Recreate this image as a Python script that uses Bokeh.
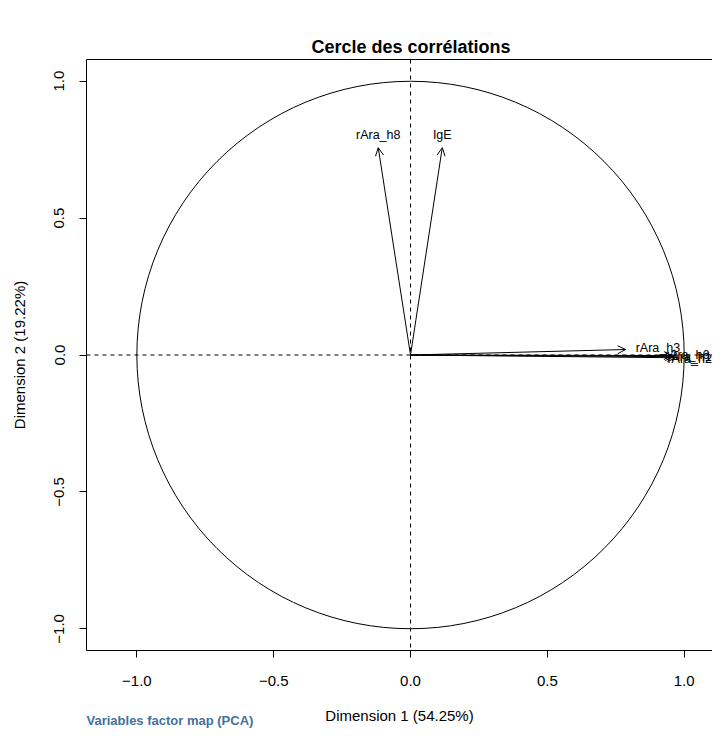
from bokeh.plotting import figure
from bokeh.models import (ColumnDataSource, Arrow, OpenHead, Span, LinearAxis,
                          FixedTicker, Range1d, Title, LabelSet)
from bokeh.embed import file_html
from bokeh.resources import INLINE
from bokeh.core.properties import value

# ---- data ----
variables = ["rAra_h8", "IgE", "rAra_h3", "rAra_h6", "rAra_h1", "rAra_h2"]
dim1 = [-0.118, 0.116, 0.786, 0.955, 0.960, 0.968]
dim2 = [0.757, 0.757, 0.020, -0.002, -0.006, -0.010]
tick_vals = [-1.0, -0.5, 0.0, 0.5, 1.0]
tick_labels = ["\u22121.0", "\u22120.5", "0.0", "0.5", "1.0"]
title_text = "Cercle des corr\u00e9lations"
xlab = "Dimension 1 (54.25%)"
ylab = "Dimension 2 (19.22%)"
subtitle = "Variables factor map (PCA)"

# ---- label placement styling (pixels, positive up) ----
lab_dx = [0, 0, 10, -7, -6, -8]
lab_dy = [6, 6, 2, 1, 0, -1]
lab_align = ["center", "center", "left", "left", "left", "left"]
lab_base = ["bottom", "bottom", "middle", "middle", "middle", "middle"]

FONT = "Liberation Sans"

src = ColumnDataSource(dict(
    x0=[0.0] * len(dim1), y0=[0.0] * len(dim1), dim1=dim1, dim2=dim2,
    name=variables, dx=lab_dx, dy=lab_dy, align=lab_align, base=lab_base))

p = figure(width=712, height=728,
           x_range=Range1d(-1.184, 1.1034), y_range=Range1d(-1.079, 1.079),
           output_backend="svg", toolbar_location=None,
           min_border_left=86, min_border_right=0, min_border_top=59,
           min_border_bottom=78)
p.grid.visible = False
p.outline_line_color = None
p.background_fill_color = "white"
p.border_fill_color = "white"

overrides = {(int(v) if float(v).is_integer() else v): lab
             for v, lab in zip(tick_vals, tick_labels)}

for ax in (p.xaxis[0], p.yaxis[0]):
    ax.ticker = FixedTicker(ticks=tick_vals)
    ax.major_label_overrides = overrides
    ax.major_tick_out = 7
    ax.major_tick_in = 0
    ax.minor_tick_line_color = None
    ax.axis_line_color = "black"
    ax.major_tick_line_color = "black"
    ax.major_label_text_font = FONT
    ax.major_label_text_font_size = "15px"
    ax.major_label_text_color = "black"
    ax.axis_label_text_font = FONT
    ax.axis_label_text_font_size = "15px"
    ax.axis_label_text_font_style = "normal"
    ax.axis_label_text_color = "black"

p.xaxis[0].axis_label = xlab
p.xaxis[0].major_label_standoff = 18
p.xaxis[0].axis_label_standoff = 18
p.yaxis[0].axis_label = ylab
p.yaxis[0].major_label_orientation = "vertical"
p.yaxis[0].major_label_standoff = 15
p.yaxis[0].axis_label_standoff = 24

top_ax = LinearAxis(ticker=FixedTicker(ticks=[]), major_label_text_font_size="0px",
                    major_tick_line_color=None, minor_tick_line_color=None,
                    major_label_standoff=0, axis_line_color="black")
p.add_layout(top_ax, "above")

p.title.text = title_text
p.title.align = "left"
p.title.offset = 225
p.title.text_font = FONT
p.title.text_font_size = "18px"
p.title.text_font_style = "bold"
p.title.text_color = "black"
p.title.standoff = 6

sub = Title(text=subtitle, align="left", vertical_align="top",
            text_font=FONT, text_font_size="13px", text_font_style="bold",
            text_color="#43719e", standoff=-27)
p.add_layout(sub, "below")

# circle
p.ellipse(x=[0], y=[0], width=2, height=2, fill_color=None,
          line_color="black", line_width=1)

p.add_layout(Span(location=0, dimension="width", line_color="black",
                  line_dash="4 4", line_width=1))
p.add_layout(Span(location=0, dimension="height", line_color="black",
                  line_dash="4 4", line_width=1))

p.add_layout(Arrow(end=OpenHead(size=8, line_width=1, line_color="black"),
                   x_start="x0", y_start="y0", x_end="dim1", y_end="dim2",
                   source=src, line_width=1, line_color="black"))

labels = LabelSet(x="dim1", y="dim2", text="name", source=src,
                  x_offset="dx", y_offset="dy",
                  text_align={"field": "align"},
                  text_baseline={"field": "base"},
                  text_font=value(FONT), text_font_size=value("12.5px"),
                  text_color="black")
p.add_layout(labels)

open("out.html", "w").write(file_html(p, INLINE))
